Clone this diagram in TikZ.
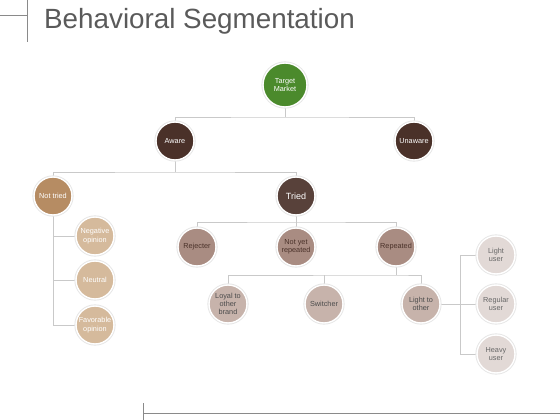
\documentclass[tikz,border=0pt]{standalone}
\usepackage{fontspec}
\setmainfont{Liberation Sans}
\usetikzlibrary{backgrounds}
\definecolor{cgreen}{HTML}{4B8A2C}
\definecolor{cdark}{HTML}{4A3129}
\definecolor{ctan}{HTML}{B68C63}
\definecolor{clighttan}{HTML}{D5BA9C}
\definecolor{cmauve}{HTML}{A98C82}
\definecolor{cpale}{HTML}{C7B3AB}
\definecolor{cpalest}{HTML}{E2D9D6}
\definecolor{cline}{HTML}{C9C9C9}
\definecolor{ctitle}{HTML}{5A5A5A}
\definecolor{cframe}{HTML}{8A8A8A}
\tikzset{
  bubble/.style={circle, minimum size=38pt, inner sep=0pt, align=center,
    draw=white, line width=1.4pt, font=\fontsize{7.3}{8.3}\selectfont,
    preaction={draw=black!10, line width=3.2pt}},
  lnk/.style={draw=cline, line width=0.8pt},
  frame/.style={draw=cframe, line width=0.9pt}
}
\begin{document}
\begin{tikzpicture}[x=1pt,y=-1pt]
\useasboundingbox (0,0) rectangle (560,420);
% frame decorations
\draw[frame] (0,15) -- (27,15);
\draw[frame] (27,0) -- (27,42);
\draw[frame] (143,403) -- (143,420);
\draw[frame] (143,413) -- (560,413);
\node[anchor=base west, text=ctitle, font=\fontsize{27.8}{30}\selectfont, inner sep=0pt] (title) at (44,28.5) {Behavioral Segmentation};
% nodes
\node[bubble, fill=cgreen, text=white, minimum size=44pt] (tm) at (285,85) {Target\\Market};
\node[bubble, fill=cdark, text=white] (aw) at (175,141) {Aware};
\node[bubble, fill=cdark, text=white] (un) at (414,141) {Unaware};
\node[bubble, fill=ctan, text=white] (nt) at (53,196) {Not tried};
\node[bubble, fill=clighttan, text=white] (neg) at (95,236) {Negative\\opinion};
\node[bubble, fill=clighttan, text=white] (neu) at (95,280) {Neutral};
\node[bubble, fill=clighttan, text=white] (fav) at (95,325) {Favorable\\opinion};
\node[bubble, fill=cdark!92!white, text=white, font=\fontsize{9}{10}\selectfont] (tr) at (296,196) {Tried};
\node[bubble, fill=cmauve, text=cdark] (rej) at (197,247) {Rejecter};
\node[bubble, fill=cmauve, text=cdark] (nyr) at (296,247) {Not yet\\repeated};
\node[bubble, fill=cmauve, text=cdark] (rep) at (396,247) {Repeated};
\node[bubble, fill=cpale, text=black!70] (loy) at (228,304) {Loyal to\\other\\brand};
\node[bubble, fill=cpale, text=black!70] (sw) at (324,304) {Switcher};
\node[bubble, fill=cpale, text=black!70] (lto) at (421,304) {Light to\\other};
\node[bubble, fill=cpalest, text=black!60] (lu) at (496,255) {Light\\user};
\node[bubble, fill=cpalest, text=black!60] (ru) at (496,304) {Regular\\user};
\node[bubble, fill=cpalest, text=black!60] (hu) at (496,354) {Heavy\\user};
% connectors
\coordinate (b1) at (285,117);
\coordinate (b2) at (175,172);
\coordinate (b3) at (296,222);
\coordinate (b4) at (396,275);
\coordinate (b5) at (460,304);
\begin{scope}[on background layer]
\draw[lnk] (tm) -- (b1);
\draw[lnk] (aw) |- (b1) -| (un);
\draw[lnk] (aw) -- (b2);
\draw[lnk] (nt) |- (b2) -| (tr);
\draw[lnk] (nt) |- (neg);
\draw[lnk] (nt) |- (neu);
\draw[lnk] (nt) |- (fav);
\draw[lnk] (tr) -- (b3);
\draw[lnk] (rej) |- (b3) -| (rep);
\draw[lnk] (b3) -- (nyr);
\draw[lnk] (rep) -- (b4);
\draw[lnk] (loy) |- (b4) -| (lto);
\draw[lnk] (sw) -- (sw |- b4);
\draw[lnk] (lto) -- (b5);
\draw[lnk] (b5) |- (lu);
\draw[lnk] (b5) |- (hu);
\draw[lnk] (b5) -- (ru);
\end{scope}
\end{tikzpicture}
\end{document}
